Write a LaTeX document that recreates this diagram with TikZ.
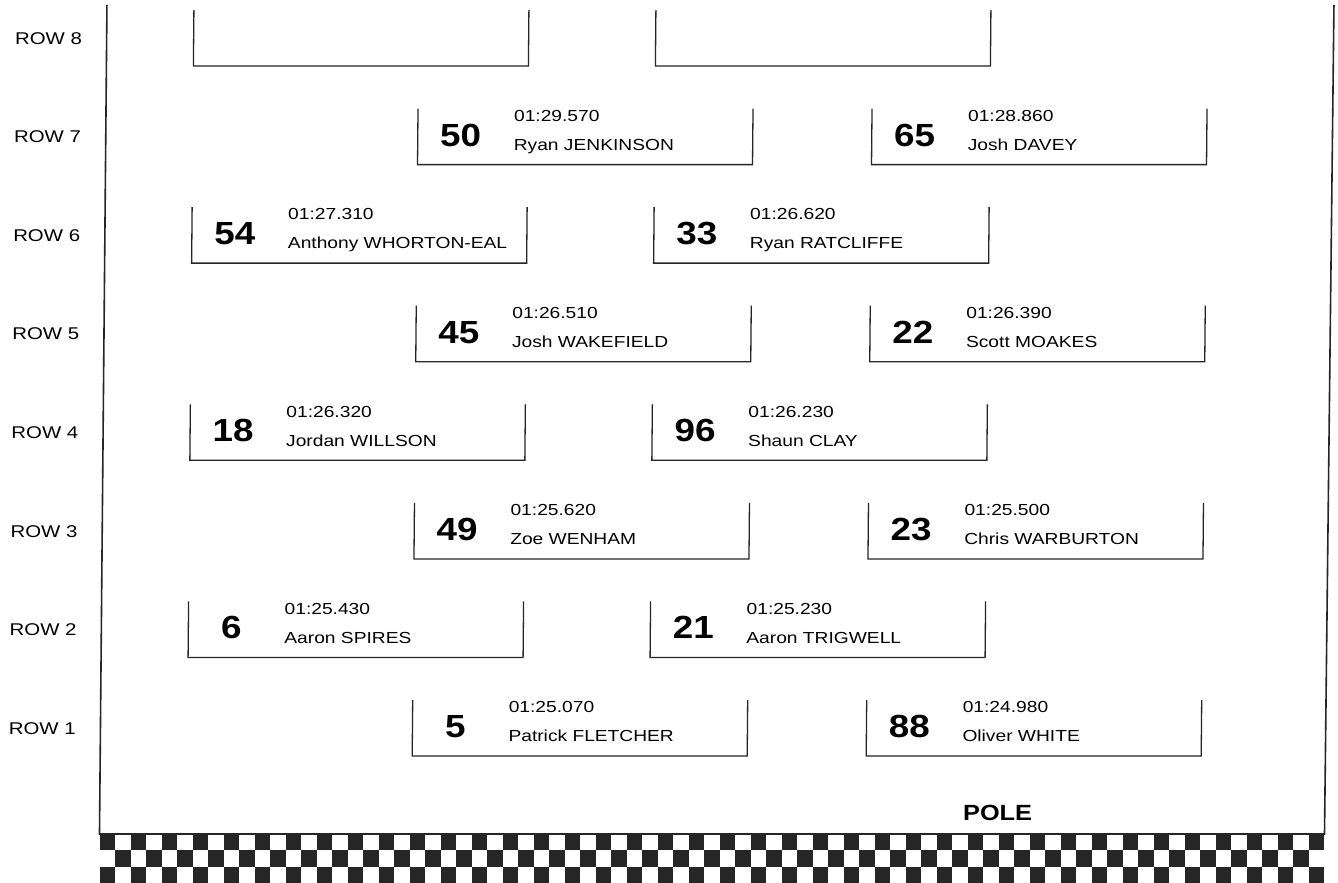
\documentclass[tikz,border=0pt]{standalone}
\usepackage{fontspec}
\setmainfont{Liberation Sans}
\newcommand\widetext[2][1.2]{\scalebox{#1}[1]{#2}}
\tikzset{
  boxline/.style={line width=1.3pt, black!85, line join=miter},
  borderline/.style={line width=1.6pt, black!85},
  numtxt/.style={font=\fontsize{32}{36}\selectfont\bfseries, inner sep=0pt, anchor=base},
  infotxt/.style={font=\fontsize{16}{19}\selectfont, inner sep=0pt, anchor=base west},
  rowtxt/.style={font=\fontsize{17}{20}\selectfont, inner sep=0pt, anchor=base east},
  poletxt/.style={font=\fontsize{22}{26}\selectfont\bfseries, inner sep=0pt, anchor=base},
  flagdark/.style={fill=black!85}
}
% #1 id, #2 left x, #3 bottom y, #4 number, #5 time, #6 driver
\newcommand\gridslot[6]{%
  \draw[boxline] (#2,#3-56) -- (#2,#3) -- (#2+335,#3) -- (#2+335,#3-56);
  \node[numtxt] (n#1) at (#2+43,#3-18.5) {\widetext[1.15]{#4}};
  \node[infotxt] (t#1) at (#2+96,#3-43.3) {\widetext{#5}};
  \node[infotxt] (d#1) at (#2+96,#3-14.3) {\widetext{#6}};
}
\newcommand\emptyslot[2]{%
  \draw[boxline] (#1,#2-56) -- (#1,#2) -- (#1+335,#2) -- (#1+335,#2-56);
}
\begin{document}
\begin{tikzpicture}[x=1pt,y=-1pt]
\useasboundingbox (0,0) rectangle (1338,883);
\fill[white] (0,0) rectangle (1338,883);
\begin{scope}[xslant=0.009]
  % frame
  \draw[borderline] (107,5) -- (107,834) -- (1332,834) -- (1334,5);
  % row labels
  \foreach \r/\b in {8/66,7/164.6,6/263.1,5/361.7,4/460.3,3/558.9,2/657.4,1/756}{
    \node[rowtxt] (row\r) at (82.5,\b-21.9) {\widetext{ROW \r}};
  }
  % row 8
  \emptyslot{194}{66}
  \emptyslot{656}{66}
  % row 7
  \gridslot{50}{419}{164.6}{50}{01:29.570}{Ryan JENKINSON}
  \gridslot{65}{873}{164.6}{65}{01:28.860}{Josh DAVEY}
  % row 6
  \gridslot{54}{194}{263.1}{54}{01:27.310}{Anthony WHORTON-EAL}
  \gridslot{33}{656}{263.1}{33}{01:26.620}{Ryan RATCLIFFE}
  % row 5
  \gridslot{45}{419}{361.7}{45}{01:26.510}{Josh WAKEFIELD}
  \gridslot{22}{873}{361.7}{22}{01:26.390}{Scott MOAKES}
  % row 4
  \gridslot{18}{194}{460.3}{18}{01:26.320}{Jordan WILLSON}
  \gridslot{96}{656}{460.3}{96}{01:26.230}{Shaun CLAY}
  % row 3
  \gridslot{49}{419}{558.9}{49}{01:25.620}{Zoe WENHAM}
  \gridslot{23}{873}{558.9}{23}{01:25.500}{Chris WARBURTON}
  % row 2
  \gridslot{6}{194}{657.4}{6}{01:25.430}{Aaron SPIRES}
  \gridslot{21}{656}{657.4}{21}{01:25.230}{Aaron TRIGWELL}
  % row 1
  \gridslot{5}{419}{756}{5}{01:25.070}{Patrick FLETCHER}
  \gridslot{88}{873}{756}{88}{01:24.980}{Oliver WHITE}
  % pole
  \node[poletxt] (pole) at (1005,820.9) {\widetext[1.15]{POLE}};
\end{scope}
% chequered band
\foreach \i in {0,...,78}{
  \foreach \j in {0,1,2}{
    \pgfmathtruncatemacro\k{mod(\i+\j,2)}
    \ifnum\k=0
      \fill[flagdark] (99.5+\i*15.5,834+\j*16.34) rectangle ++(15.5,16.34);
    \fi
  }
}
\end{tikzpicture}
\end{document}
